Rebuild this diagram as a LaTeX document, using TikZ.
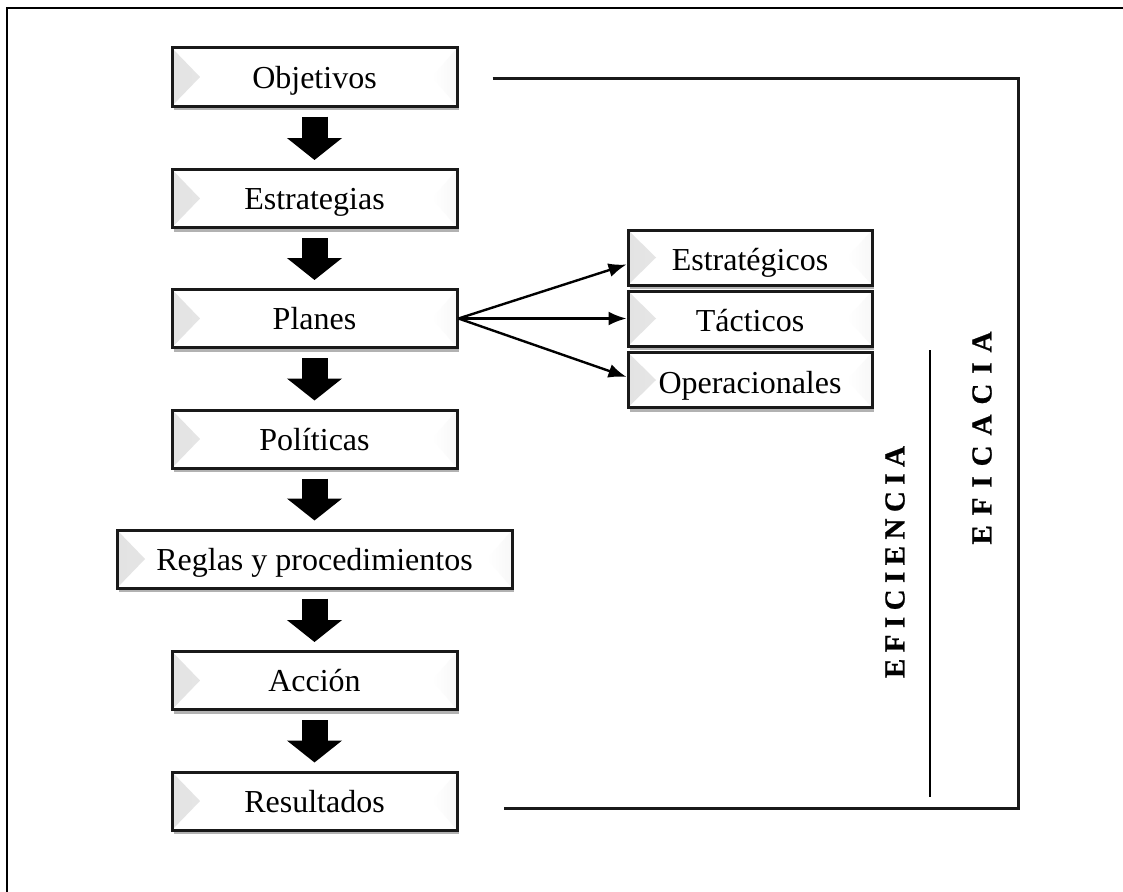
\documentclass[tikz,border=0pt]{standalone}
\usepackage{fontspec}
\setmainfont{Liberation Serif}
\usetikzlibrary{calc,shadows,arrows.meta}
\begin{document}
\begin{tikzpicture}[x=1pt,y=-1pt,
  bx/.style={draw=black!90, line width=3pt, fill=white, inner sep=0pt,
    minimum height=58pt, minimum width=285pt, text height=24pt, text depth=2pt,
    font=\fontsize{32}{38}\selectfont,
    drop shadow={shadow xshift=1.5pt, shadow yshift=-4pt, fill=black, opacity=0.3},
    path picture={
      \shade[left color=gray!22, right color=gray!4]
        (path picture bounding box.north west) --
        ($(path picture bounding box.west)+(28,0)$) --
        (path picture bounding box.south west) -- cycle;
      \shade[left color=white, right color=gray!6]
        (path picture bounding box.north east) --
        ($(path picture bounding box.east)+(-25,0)$) --
        (path picture bounding box.south east) -- cycle;
    }},
  sbx/.style={bx, minimum width=244pt, minimum height=55pt, text height=28pt, text depth=2pt},
  bigarr/.style={line width=26pt, black, -{Triangle[width=54pt,length=22pt]}},
  thinarr/.style={line width=2.4pt, black, -{Latex[length=18pt,width=14pt]}},
  brk/.style={line width=3pt, black!90},
  vlabel/.style={rotate=90, inner sep=0pt, font=\bfseries\fontsize{29}{30}\selectfont\addfontfeature{FakeBold=0.8}}
]
\useasboundingbox (0,0) rectangle (1123,891);
\draw[line width=2.6pt] (7,895) -- (7,8) -- (1127,8);

\node[bx] (obj) at (314.5,77) {Objetivos};
\node[bx] (est) at (314.5,198.5) {Estrategias};
\node[bx] (pla) at (314.5,318.5) {Planes};
\node[bx] (pol) at (314.5,439) {Políticas};
\node[bx, minimum width=395pt] (reg) at (314.5,559) {Reglas y procedimientos};
\node[bx] (acc) at (314.5,680.5) {Acción};
\node[bx] (res) at (314.5,801) {Resultados};

\node[sbx] (est2) at (750,257.5) {Estratégicos};
\node[sbx] (tac) at (750,318.5) {Tácticos};
\node[sbx] (ope) at (750,380) {Operacionales};

\foreach \a/\b in {obj/est, est/pla, pla/pol, pol/reg, reg/acc, acc/res}
  \draw[bigarr] ($(\a.south)+(0,9)$) -- ($(\b.north)+(0,-8)$);

\draw[thinarr] (pla.east) -- ($(est2.west)+(0,7)$);
\draw[thinarr] (pla.east) -- (tac.west);
\draw[thinarr] (pla.east) -- ($(ope.west)+(0,-3)$);

\coordinate (b1) at ($(obj.east)+(34,1)$);
\coordinate (c1) at (1018,78);
\coordinate (c2) at (1018,808);
\coordinate (b4) at ($(res.east)+(45,7)$);
\draw[brk] (b1) -- (c1) -- (c2) -- (b4);

\coordinate (i1) at (930,350);
\coordinate (i2) at (930,797);
\draw[line width=2.8pt] (i1) -- (i2);

\node[vlabel] (efi) at (895,562) {\makebox[232pt][s]{E F I C I E N C I A}};
\node[vlabel] (efa) at (982,438) {\makebox[213pt][s]{E F I C A C I A}};
\end{tikzpicture}
\end{document}
